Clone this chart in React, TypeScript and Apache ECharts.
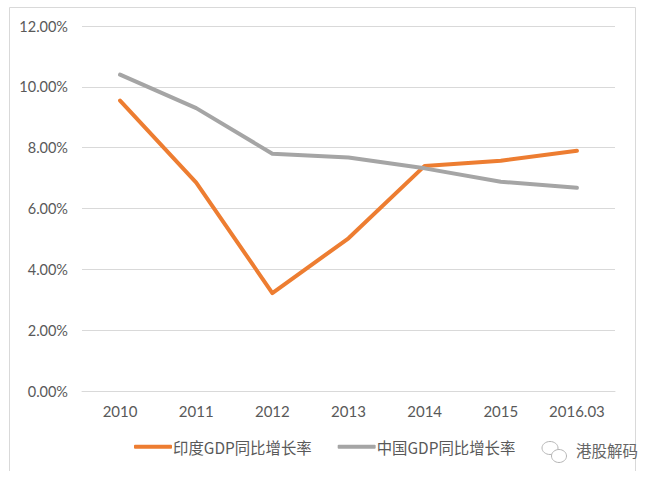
import React, { useEffect, useRef } from "react";
import * as echarts from "echarts";

const categories = ["2010", "2011", "2012", "2013", "2014", "2015", "2016.03"];
const indiaName = "印度GDP同比增长率";
const chinaName = "中国GDP同比增长率";
const india = [9.55, 6.85, 3.22, 5.02, 7.4, 7.57, 7.9];
const china = [10.4, 9.3, 7.8, 7.68, 7.32, 6.88, 6.68];
const watermark = "港股解码";
const font = "'Noto Sans CJK SC', 'Liberation Sans', sans-serif";
const latin = "Lato, 'Noto Sans CJK SC', sans-serif";

export default function App() {
  const ref = useRef<HTMLDivElement>(null);
  useEffect(() => {
    const chart = echarts.init(ref.current!, null, { renderer: "svg" });
    const series = (name: string, data: number[], color: string) => ({
      name, data, type: "line", showSymbol: false, symbol: "none", smooth: false,
      lineStyle: { color, width: 4, cap: "round", join: "round" },
      itemStyle: { color },
    });
    chart.setOption({
      animation: false,
      backgroundColor: "#fff",
      grid: { left: 82, right: 44, top: 26, bottom: 90 },
      xAxis: {
        type: "category", data: categories, boundaryGap: true,
        axisLine: { lineStyle: { color: "#d9d9d9" } }, axisTick: { show: false },
        axisLabel: { color: "#595959", fontSize: 15, fontFamily: latin, margin: 12 },
      },
      yAxis: {
        type: "value", min: 0, max: 12, interval: 2,
        axisLine: { show: false }, axisTick: { show: false },
        axisLabel: { color: "#595959", fontSize: 14.5, fontFamily: latin, margin: 14,
          formatter: (v: number) => v.toFixed(2) + "%" },
        splitLine: { lineStyle: { color: "#d9d9d9", width: 1 } },
      },
      legend: {
        show: true, left: 129, top: 434, itemGap: 26, itemWidth: 38, itemHeight: 4,
        icon: "roundRect",
        textStyle: { color: "#595959", fontSize: 15.4, fontFamily: font, padding: [0, 0, 0, -4] },
        data: [indiaName, chinaName],
      },
      series: [series(indiaName, india, "#ed7d31"), series(chinaName, china, "#a5a5a5")],
      graphic: [
        { type: "polyline", silent: true, shape: { points: [[9.5, 471], [9.5, 7.5], [635.5, 7.5], [635.5, 471]] },
          style: { stroke: "#d9d9d9", lineWidth: 1, fill: "none" } },
        { type: "ellipse", silent: true, shape: { cx: 550, cy: 448, rx: 8, ry: 6.5 }, style: { fill: "#fff", stroke: "#b5b5b5", lineWidth: 1 } },
        { type: "ellipse", silent: true, shape: { cx: 559, cy: 456, rx: 7.5, ry: 6.5 }, style: { fill: "#fff", stroke: "#b5b5b5", lineWidth: 1 } },
        { type: "text", silent: true, x: 576, y: 442, style: { text: watermark, fill: "#666", fontSize: 15.5, fontFamily: font } },
      ],
    });
    return () => chart.dispose();
  }, []);
  return <div ref={ref} style={{ width: 659, height: 481, position: "absolute", left: 0, top: 0 }} />;
}
